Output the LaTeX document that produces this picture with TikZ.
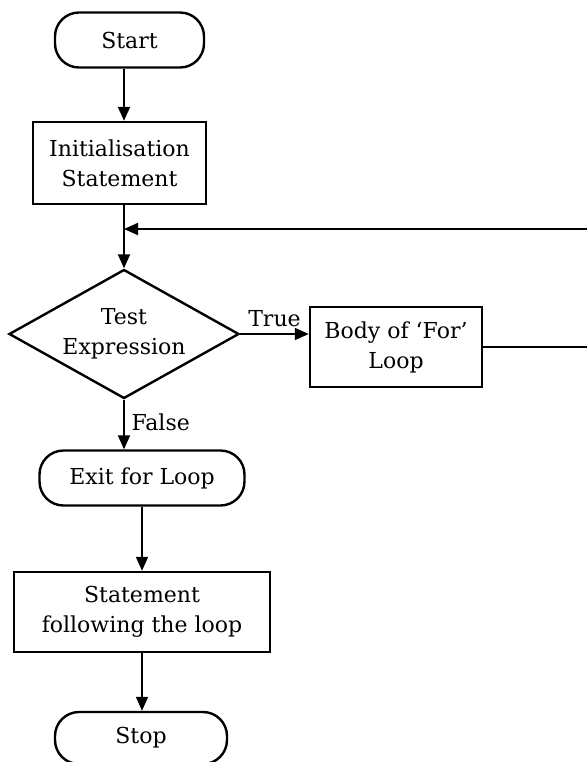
\documentclass[tikz,border=0pt]{standalone}
\usepackage{fontspec}
\setmainfont{DejaVu Serif}
\usetikzlibrary{shapes.geometric,arrows.meta}

\tikzset{
    box/.style={draw, line width=1.2pt, align=center, inner sep=2pt},
    term/.style={box, rounded corners=12pt},
    test/.style={draw, line width=1.2pt, diamond, aspect=1.8, inner sep=0pt, align=center,
        minimum width=115pt, minimum height=64.5pt},
    arr/.style={line width=0.9pt, -{Triangle[length=7pt,width=6pt]}}
}

\begin{document}
\begin{tikzpicture}[x=0.5pt, y=-0.5pt, font=\fontsize{11}{15}\selectfont]
        \useasboundingbox (0,0) rectangle (586,762);

        % the boxes
        \node[term, minimum width=74.5pt, minimum height=27.5pt] (start) at (129.5,40) {Start};
        \node[box, minimum width=86.5pt, minimum height=41pt] (init) at (119.5,163) {Initialisation\\Statement};
        \node[test] (cond) at (124,334) {Test\\Expression};
        \node[box, minimum width=86pt, minimum height=40pt] (body) at (396,347) {Body of ‘For’\\Loop};
        \node[term, minimum width=102.5pt, minimum height=27.5pt] (exit) at (142,478) {Exit for Loop};
        \node[box, minimum width=128pt, minimum height=40pt] (after) at (142,612) {Statement\\following the loop};
        \node[term, minimum width=86pt, minimum height=26pt] (stop) at (141,738) {Stop};

        % the point where the loop comes back
        \coordinate (back) at (124,229);

        % draw the arrows
        \draw[arr] (start.south -| cond.north) -- (init.north -| cond.north);
        \draw[arr] (init.south -| cond.north) -- (cond.north);
        \draw[arr] (cond.east) -- node[above] {True} (cond.east -| body.west);
        \draw[arr] (body.east) -- ++(130,0) |- (back);
        \draw[arr] (cond.south) -- node[right, pos=0.45] {False} (cond.south |- exit.north);
        \draw[arr] (exit.south) -- (exit.south |- after.north);
        \draw[arr] (after.south) -- (after.south |- stop.north);

    \end{tikzpicture}
\end{document}
